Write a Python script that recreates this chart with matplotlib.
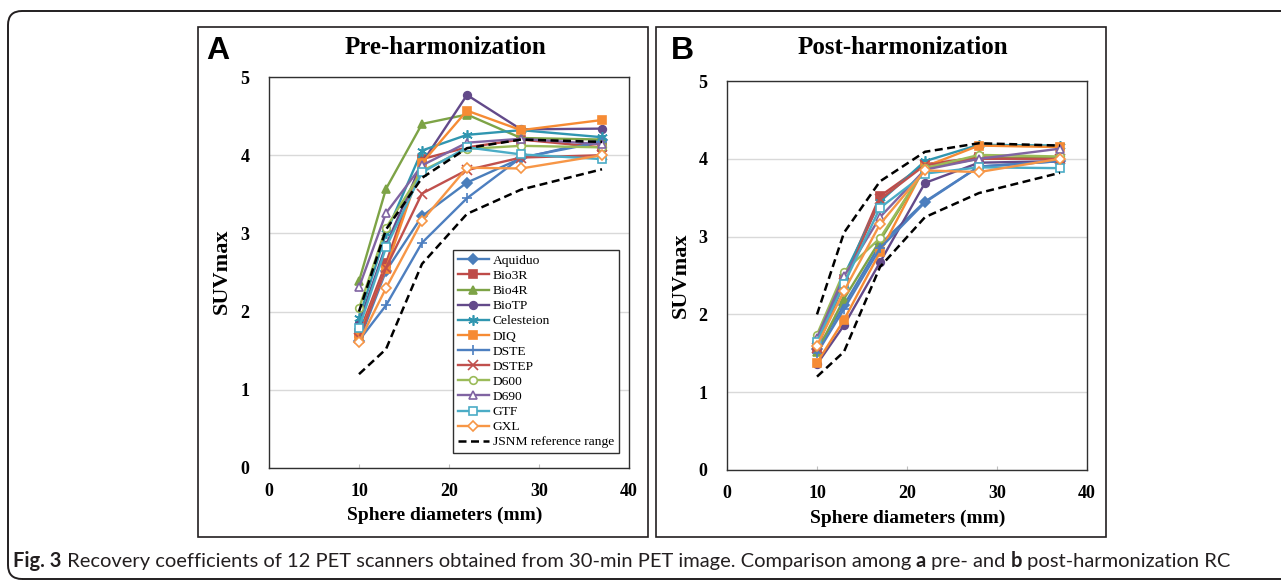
import matplotlib
matplotlib.use("Agg")
import matplotlib.pyplot as plt
from matplotlib.patches import Rectangle, FancyBboxPatch

# sphere diameters (mm)
diam = [10, 13, 17, 22, 28, 37]

scanners = ["Aquiduo", "Bio3R", "Bio4R", "BioTP", "Celesteion", "DIQ",
            "DSTE", "DSTEP", "D600", "D690", "GTF", "GXL"]

# RC (SUVmax) before harmonization
pre_aquiduo = [1.62, 2.52, 3.22, 3.65, 3.96, 4.20]
pre_bio3r = [1.72, 2.62, 3.95, 4.10, 4.20, 4.10]
pre_bio4r = [2.39, 3.57, 4.40, 4.52, 4.22, 4.20]
pre_biotp = [1.85, 2.85, 3.90, 4.77, 4.33, 4.34]
pre_celesteion = [1.92, 3.00, 4.06, 4.26, 4.32, 4.23]
pre_diq = [1.68, 2.55, 3.90, 4.57, 4.32, 4.45]
pre_dste = [1.63, 2.08, 2.88, 3.45, 3.97, 4.17]
pre_dstep = [1.66, 2.56, 3.51, 3.81, 3.97, 4.00]
pre_d600 = [2.04, 3.07, 3.80, 4.08, 4.12, 4.10]
pre_d690 = [2.31, 3.26, 3.87, 4.16, 4.21, 4.14]
pre_gtf = [1.79, 2.82, 3.78, 4.10, 4.01, 3.95]
pre_gxl = [1.61, 2.30, 3.16, 3.84, 3.83, 4.00]

# RC (SUVmax) after harmonization
post_aquiduo = [1.55, 2.12, 2.90, 3.45, 3.90, 3.97]
post_bio3r = [1.58, 2.45, 3.52, 3.93, 4.02, 4.00]
post_bio4r = [1.52, 2.20, 2.95, 3.88, 4.00, 4.02]
post_biotp = [1.36, 1.86, 2.67, 3.69, 3.95, 3.97]
post_celesteion = [1.62, 2.50, 3.45, 3.97, 4.18, 4.17]
post_diq = [1.38, 1.93, 2.80, 3.90, 4.17, 4.15]
post_dste = [1.50, 2.07, 2.85, 3.44, 3.90, 3.97]
post_dstep = [1.57, 2.40, 3.48, 3.92, 4.00, 4.00]
post_d600 = [1.74, 2.55, 2.98, 3.88, 4.05, 4.03]
post_d690 = [1.70, 2.49, 3.25, 3.86, 4.00, 4.13]
post_gtf = [1.65, 2.39, 3.37, 3.81, 3.89, 3.88]
post_gxl = [1.60, 2.30, 3.16, 3.85, 3.83, 4.00]

# JSNM reference range (lower / upper)
jsnm_low = [1.20, 1.52, 2.61, 3.25, 3.56, 3.82]
jsnm_high = [2.00, 3.05, 3.71, 4.09, 4.20, 4.17]

pre_values = [pre_aquiduo, pre_bio3r, pre_bio4r, pre_biotp, pre_celesteion, pre_diq,
              pre_dste, pre_dstep, pre_d600, pre_d690, pre_gtf, pre_gxl]
post_values = [post_aquiduo, post_bio3r, post_bio4r, post_biotp, post_celesteion, post_diq,
               post_dste, post_dstep, post_d600, post_d690, post_gtf, post_gxl]

colors = ["#4A7EBB", "#BE4B48", "#7DA346", "#634A8A", "#3096B0", "#F68B34",
          "#4D7FC0", "#C0504D", "#9BBB59", "#8064A2", "#4BACC6", "#F79646"]
markers = ["D", "s", "^", "o", (6, 2, 0), "s", "+", "x", "o", "^", "s", "D"]
filled = [True] * 8 + [False] * 4

W, H = 1281, 582
fig = plt.figure(figsize=(W / 100, H / 100), dpi=100)

serif = "Liberation Serif"


def px_rect(x, y_top, w, h):
	# pixel box (from top-left) -> figure fraction
	return [x / W, 1 - (y_top + h) / H, w / W, h / H]


# outer rounded frame
frame = FancyBboxPatch((8, 3), 1400, 568, boxstyle="round,pad=0,rounding_size=14",
                       transform=None, fill=False, ec="#231F20", lw=1.4)
fig.patches.append(frame)

# panel boxes
for x0 in [198, 656]:
	fig.patches.append(Rectangle((x0, H - 537), 450, 510, transform=None,
	                             fill=False, ec="#231F20", lw=1.2))


def draw_panel(ax, values, legend):
	for i, name in enumerate(scanners):
		mk = markers[i]
		fc = colors[i] if filled[i] else "white"
		ms = 5.5
		if mk in ("+", "x"):
			ms = 6.5
		if mk == (6, 2, 0):
			ms = 7.5
		ax.plot(diam, values[i], color=colors[i], lw=1.7, marker=mk, ms=ms,
		        mfc=fc, mec=colors[i], mew=1.2, label=name, zorder=3)
	ax.plot(diam, jsnm_low, color="black", lw=1.8, ls=(0, (3.2, 1.8)), zorder=4,
	        label="JSNM reference range")
	ax.plot(diam, jsnm_high, color="black", lw=1.8, ls=(0, (3.2, 1.8)), zorder=4)

	ax.set_xlim(0, 40)
	ax.set_ylim(0, 5)
	ax.set_xticks([0, 10, 20, 30, 40])
	ax.set_yticks([0, 1, 2, 3, 4, 5])
	ax.grid(axis="y", color="#D9D9D9", lw=1.0)
	ax.set_axisbelow(True)
	ax.tick_params(axis="y", length=0, pad=14)
	ax.tick_params(axis="x", direction="in", length=3, color="#BFBFBF", pad=11)
	for lab in ax.get_xticklabels() + ax.get_yticklabels():
		lab.set_fontfamily(serif)
		lab.set_fontweight("bold")
		lab.set_fontsize(13)
	for sp in ax.spines.values():
		sp.set_color("#303030")
		sp.set_linewidth(1.0)

	if legend:
		leg = ax.legend(loc="upper left", bbox_to_anchor=(0.511, 0.558),
		                prop={"family": serif, "size": 9.7}, frameon=True,
		                fancybox=False, edgecolor="#303030", framealpha=1,
		                handlelength=2.3, handletextpad=0.3, labelspacing=0.2,
		                borderpad=0.35, borderaxespad=0)
		leg.get_frame().set_linewidth(1.0)


axA = fig.add_axes(px_rect(269, 77, 360, 391))
draw_panel(axA, pre_values, True)
axB = fig.add_axes(px_rect(727, 81, 360, 389))
draw_panel(axB, post_values, False)

# panel letters, titles, axis labels
fig.text(218 / W, 1 - 51 / H, "A", ha="center", va="center", fontsize=23,
         fontweight="bold", family="Liberation Sans")
fig.text(682 / W, 1 - 51 / H, "B", ha="center", va="center", fontsize=23,
         fontweight="bold", family="Liberation Sans")
fig.text(445 / W, 1 - 47 / H, "Pre-harmonization", ha="center", va="center",
         fontsize=18, fontweight="bold", family=serif)
fig.text(903 / W, 1 - 47 / H, "Post-harmonization", ha="center", va="center",
         fontsize=18, fontweight="bold", family=serif)
fig.text(222 / W, 1 - 271 / H, "SUVmax", ha="center", va="center", rotation=90,
         fontsize=16, fontweight="bold", family=serif)
fig.text(681 / W, 1 - 275 / H, "SUVmax", ha="center", va="center", rotation=90,
         fontsize=16, fontweight="bold", family=serif)
fig.text(445 / W, 1 - 515 / H, "Sphere diameters (mm)", ha="center", va="center",
         fontsize=14, fontweight="bold", family=serif)
fig.text(908 / W, 1 - 518 / H, "Sphere diameters (mm)", ha="center", va="center",
         fontsize=14, fontweight="bold", family=serif)

# caption with mixed weights
cap_parts = [("Fig. 3", "bold"),
             (" Recovery coefficients of 12 PET scanners obtained from 30-min PET image. Comparison among ", "normal"),
             ("a", "bold"), (" pre- and ", "normal"), ("b", "bold"),
             (" post-harmonization RC", "normal")]
cap_font = ["Lato", "DejaVu Sans"]
renderer = fig.canvas.get_renderer()
xpos = 13
for txt, wt in cap_parts:
	t = fig.text(xpos / W, 1 - 561 / H, txt, ha="left", va="center", fontsize=14.5,
	             fontweight=wt, family=cap_font, color="#231F20")
	bb = t.get_window_extent(renderer=renderer)
	xpos += bb.width

fig.savefig("out.png", dpi=100)
